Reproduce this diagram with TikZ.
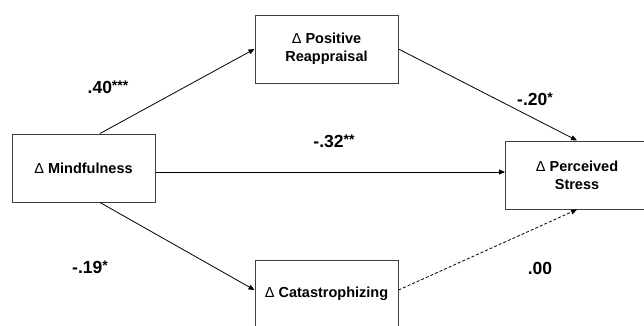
\documentclass[tikz,border=0pt]{standalone}
\usepackage{fontspec}
\setmainfont{Liberation Sans}
\usetikzlibrary{arrows.meta}
\newcommand{\sigstars}[1]{\raisebox{3pt}{\fontsize{14}{14}\selectfont #1}}

\begin{document}
\begin{tikzpicture}[x=1pt,y=-1pt,
    box/.style={draw=black!75,line width=1pt,rectangle,minimum width=143pt,minimum height=68pt,align=center,font=\fontsize{14.5}{18}\selectfont\bfseries},
    coef/.style={font=\fontsize{17.5}{20}\selectfont\bfseries},
    link/.style={line width=0.8pt,-{Triangle[length=6pt,width=5pt]}}]
    \clip (0,0) rectangle (644,325);
    \node[box] (mind) at (83.5,168) {\textmd{Δ} Mindfulness};
    \node[box] (posre) at (326.5,49) {\textmd{Δ} Positive\\Reappraisal};
    \node[box] (stress) at (577,175) {\textmd{Δ} Perceived\\Stress};
    \node[box] (cata) at (326.5,294) {\textmd{Δ} Catastrophizing};
    \node[coef] (bposre) at (108,87) {.40\sigstars{***}};
    \node[coef] (bstress) at (535,99) {-.20\sigstars{*}};
    \node[coef] (bdirect) at (334,141) {-.32\sigstars{**}};
    \node[coef] (bcata) at (90,267) {-.19\sigstars{*}};
    \node[coef] (bnull) at (540,268) {.00};
    \draw ([xshift=16.5pt]mind.north) edge[link] (posre.west);
    \draw ([xshift=16.5pt]mind.south) edge[link] ([yshift=4pt]cata.west);
    \draw ([yshift=-4pt]mind.east) edge[link] ([yshift=3pt]stress.west);
    \draw (posre.east) edge[link] (stress.north);
    \draw ([yshift=4pt]cata.east) edge[link,dash pattern=on 3pt off 2pt] (stress.south);
    \end{tikzpicture}
\end{document}
